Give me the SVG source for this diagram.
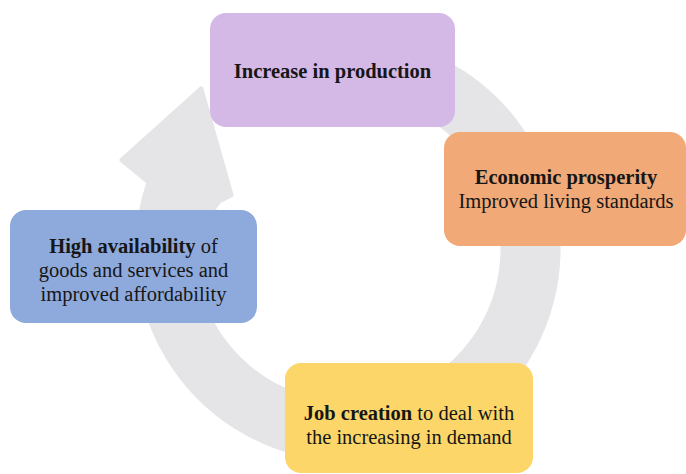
<svg xmlns="http://www.w3.org/2000/svg" width="686" height="474" viewBox="0 0 686 474">
  <style>
    .box { stroke: none; }
    .label { font-family: "Liberation Serif", "Times New Roman", "DejaVu Serif", serif; font-size: 20.5px; fill: #161616; text-anchor: middle; }
    .b { font-weight: bold; }
    .ring { fill: #e5e5e7; stroke: #e5e5e7; stroke-width: 5; stroke-linejoin: round; }
  </style>
  <rect width="686" height="474" fill="#ffffff"/>

  <!-- circular cycle arrow running clockwise behind the boxes -->
  <g id="connectors">
    <path class="ring" d="M 259.3 58.7 A 210 210 0 1 1 149 182 L 122 160 L 201 89 L 231 195 L 219 201 L 193.6 235.5 A 155 155 0 1 0 282.5 108.5 Z"/>
  </g>

  <g id="node-production">
    <rect class="box" x="210" y="13" width="245" height="114" rx="16" fill="#d4b8e6"/>
    <text class="label b" x="332.5" y="78">Increase in production</text>
  </g>

  <g id="node-prosperity">
    <rect class="box" x="444" y="132" width="242" height="114" rx="16" fill="#f1a977"/>
    <text class="label" x="566" y="184"><tspan class="b">Economic prosperity</tspan></text>
    <text class="label" x="566" y="208">Improved living standards</text>
  </g>

  <g id="node-jobs">
    <rect class="box" x="285" y="363" width="248" height="110" rx="16" fill="#fcd669"/>
    <text class="label" x="409" y="420"><tspan class="b">Job creation</tspan> to deal with</text>
    <text class="label" x="409" y="444">the increasing in demand</text>
  </g>

  <g id="node-availability">
    <rect class="box" x="10" y="210" width="247" height="113" rx="16" fill="#8ea9db"/>
    <text class="label" x="133.5" y="253"><tspan class="b">High availability</tspan> of</text>
    <text class="label" x="133.5" y="277">goods and services and</text>
    <text class="label" x="133.5" y="301">improved affordability</text>
  </g>
</svg>
